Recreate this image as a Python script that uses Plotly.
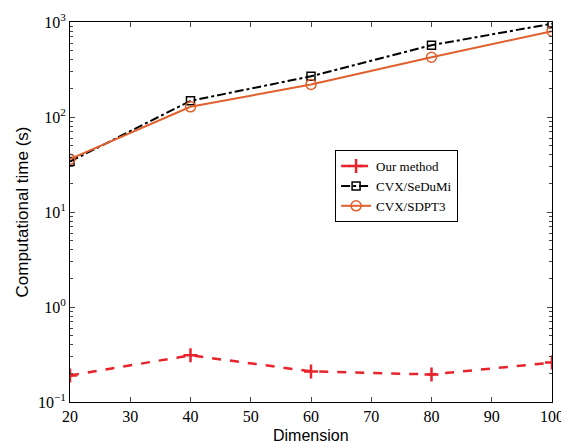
import plotly.graph_objects as go

dims = [20, 40, 60, 80, 100]
ours = [0.19, 0.31, 0.21, 0.195, 0.26]
sedumi = [34, 148, 268, 570, 960]
sdpt3 = [36, 128, 220, 425, 800]
ytick_vals = [0.1, 1, 10, 100, 1000]
ytick_text = ["10<sup>−1</sup>", "10<sup>0</sup>", "10<sup>1</sup>", "10<sup>2</sup>", "10<sup>3</sup>"]
xtick_vals = [20, 30, 40, 50, 60, 70, 80, 90, 100]

fig = go.Figure()
fig.add_trace(go.Scatter(x=dims, y=ours, name="Our method", mode="lines+markers",
    line=dict(color="#e8232b", width=2.5, dash="dash"),
    marker=dict(symbol="cross-thin", size=10, line=dict(color="#e8232b", width=2.5))))
fig.add_trace(go.Scatter(x=dims, y=sedumi, name="CVX/SeDuMi", mode="lines+markers",
    line=dict(color="black", width=2, dash="dashdot"),
    marker=dict(symbol="square-open", size=8, color="black", line=dict(width=1.5))))
fig.add_trace(go.Scatter(x=dims, y=sdpt3, name="CVX/SDPT3", mode="lines+markers",
    line=dict(color="#e0612d", width=2),
    marker=dict(symbol="circle-open", size=10, color="#e0612d", line=dict(width=1.5))))

serif = "Liberation Serif"
sans = "Liberation Sans"
fig.update_layout(
    width=561, height=435,
    margin=dict(l=62, r=17, t=14, b=41, autoexpand=False),
    paper_bgcolor="white", plot_bgcolor="white",
    showlegend=True,
    legend=dict(x=0.55, y=0.663, xanchor="left", yanchor="top",
                bordercolor="black", borderwidth=1, bgcolor="white",
                font=dict(family=serif, size=13, color="black"),
                tracegroupgap=0),
    xaxis=dict(range=[20, 100], tickvals=xtick_vals, ticks="inside", ticklen=5,
               showline=True, linecolor="black", linewidth=1, mirror="ticks",
               showgrid=False, zeroline=False, automargin=False,
               tickfont=dict(family=serif, size=16, color="black")),
    yaxis=dict(type="log", range=[-1, 3], tickvals=ytick_vals, ticktext=ytick_text,
               ticks="inside", ticklen=5, automargin=False,
               minor=dict(ticks="inside", ticklen=3, dtick="D1", showgrid=False),
               showline=True, linecolor="black", linewidth=1, mirror="ticks",
               showgrid=False, zeroline=False,
               tickfont=dict(family=serif, size=16, color="black"),
               title=dict(text="Computational time (s)", font=dict(family=sans, size=17, color="black"), standoff=4)),
    annotations=[dict(text="Dimension", xref="paper", yref="paper", x=0.5, y=-0.088,
                      xanchor="center", yanchor="middle", showarrow=False,
                      font=dict(family=sans, size=16, color="black"))],
)
fig.write_html("out.html")
